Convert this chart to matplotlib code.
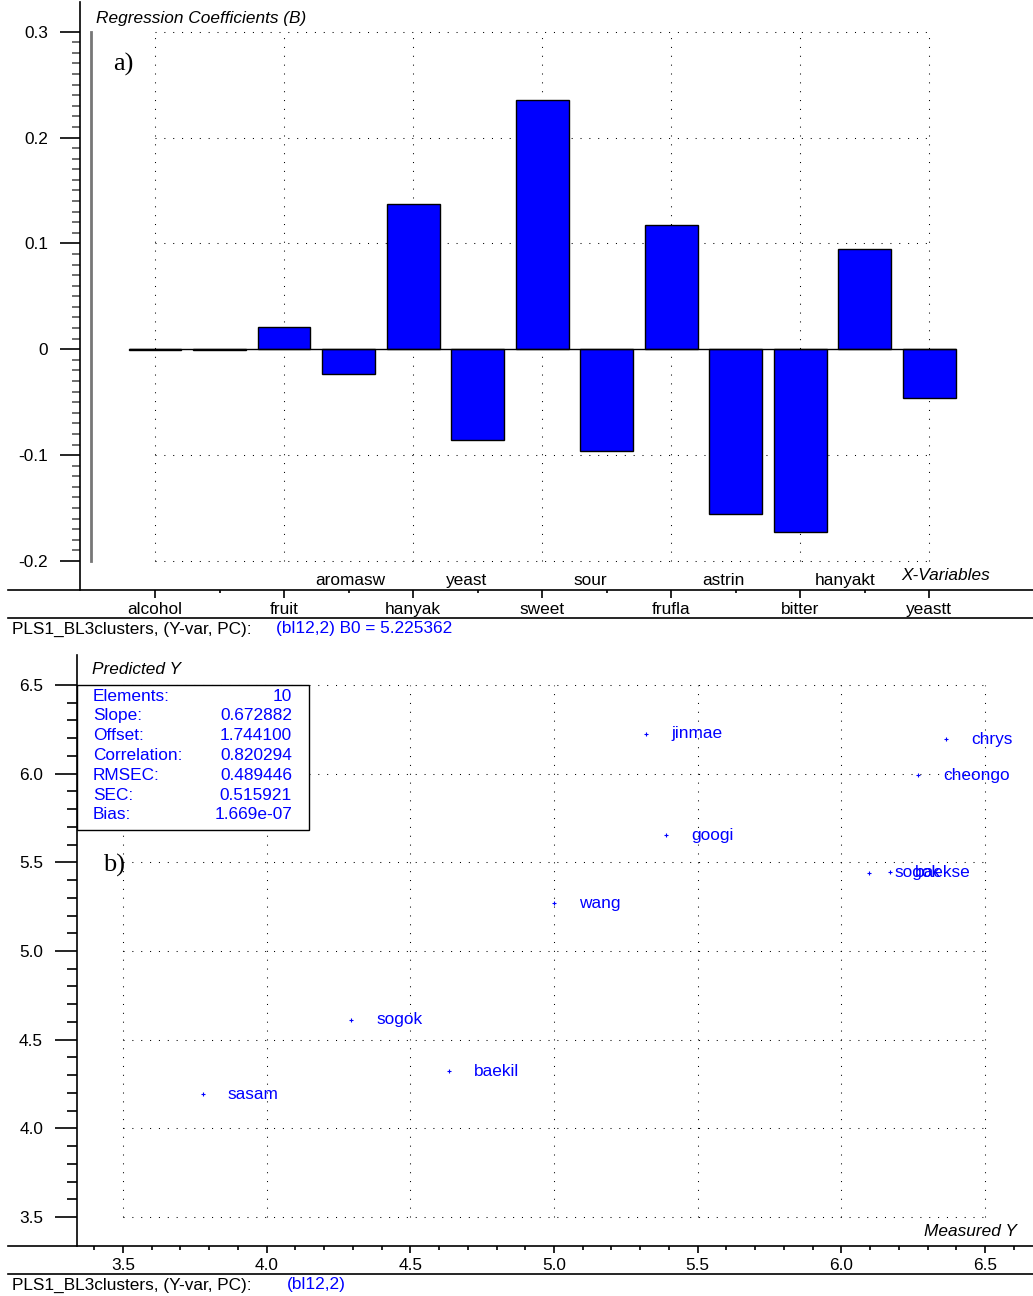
import numpy as np
import matplotlib
matplotlib.use('Agg')
import matplotlib.pyplot as plt
import matplotlib.transforms as mtransforms
from matplotlib.lines import Line2D
from matplotlib.patches import Rectangle
from matplotlib.ticker import FixedLocator, MultipleLocator, FuncFormatter

plt.rcParams['font.family'] = ['Liberation Sans', 'DejaVu Sans']
plt.rcParams['font.size'] = 12.4

# regression coefficients (B) per x-variable
variables = ['alcohol', '', 'fruit', 'aromasw', 'hanyak', 'yeast', 'sweet',
             'sour', 'frufla', 'astrin', 'bitter', 'hanyakt', 'yeastt']
coefs = [-0.001, -0.001, 0.021, -0.023, 0.137, -0.086, 0.235,
         -0.096, 0.117, -0.156, -0.173, 0.095, -0.046]
b0 = 5.225362

# measured vs predicted Y
samples = ['sasam', 'sogok', 'baekil', 'wang', 'jinmae', 'googi',
           'chrys', 'cheongo', 'sogok', 'baekse']
measured = [3.778, 4.294, 4.635, 5.000, 5.320, 5.390, 6.365, 6.267, 6.097, 6.170]
predicted = [4.193, 4.611, 4.323, 5.270, 6.224, 5.654, 6.195, 5.992, 5.440, 5.445]

stat_names = ['Elements:', 'Slope:', 'Offset:', 'Correlation:', 'RMSEC:', 'SEC:', 'Bias:']
stat_values = ['10', '0.672882', '1.744100', '0.820294', '0.489446', '0.515921', '1.669e-07']

BLUE = '#0000ff'
W, H = 1033, 1296

# horizontal nudge (pixels) of the upper-row variable names so they don't collide
upper_shift = [2, -11, -16, -12, -20]


def fx(x):
    return x / float(W)


def fy(y):
    return 1 - y / float(H)


def pt(px):
    return px * 0.72


def hline(y, x0=8, x1=1033, lw=1.2):
    fig.add_artist(Line2D([fx(x0), fx(x1)], [fy(y), fy(y)], transform=fig.transFigure,
                          color='black', lw=lw))


dots = (0, (1, 7.5))

fig = plt.figure(figsize=(W / 100.0, H / 100.0), dpi=100)
fig.patch.set_facecolor('white')

# ---------------- a) regression coefficients ----------------
ax1 = fig.add_axes([fx(80), fy(590), fx(1033 - 80), (590 - 2) / float(H)])
ax1.set_xlim(-1.163, 13.61)
ax1.set_ylim(-0.2274, 0.328)

x = np.arange(len(variables))
ax1.bar(x, coefs, width=0.82, color=BLUE, edgecolor='black', linewidth=1, zorder=3)
ax1.hlines(0, x[0] - 0.41, x[-1] + 0.41, color='black', lw=1, zorder=4)

for v in [-0.2, -0.1, 0.1, 0.2, 0.3]:
    ax1.hlines(v, x[0], x[-1], color='black', lw=0.75, linestyles=[dots], zorder=1)
for v in x[::2]:
    ax1.vlines(v, -0.2, 0.3, color='black', lw=0.75, linestyles=[dots], zorder=1)

trans = mtransforms.blended_transform_factory(ax1.transAxes, ax1.transData)
ax1.plot([0.0115, 0.0115], [-0.2, 0.3], transform=trans, color='#777777', lw=2)

for s in ['top', 'right', 'bottom']:
    ax1.spines[s].set_visible(False)
ax1.spines['left'].set_linewidth(1.2)

ax1.set_yticks(np.round(np.arange(-0.2, 0.31, 0.1), 2))
ax1.yaxis.set_minor_locator(FixedLocator(np.round(np.arange(-0.2, 0.301, 0.01), 3)))
ax1.yaxis.set_major_formatter(FuncFormatter(lambda v, p: '0' if abs(v) < 1e-9 else '%.1f' % v))
ax1.tick_params(axis='y', which='major', direction='out', length=pt(20), width=1.2, pad=pt(12))
ax1.tick_params(axis='y', which='minor', direction='out', length=pt(8), width=1.2, color='#555555')

ax1.set_xticks(x[::2])
ax1.set_xticklabels(variables[::2])
ax1.set_xticks(x[1::2], minor=True)
ax1.tick_params(axis='x', which='major', direction='out', length=pt(8), width=1.2, pad=pt(4))
ax1.tick_params(axis='x', which='minor', direction='out', length=pt(3), width=1.2)

xtrans = mtransforms.blended_transform_factory(ax1.transData, ax1.transAxes)
for i, dx in zip(x[3::2], upper_shift):
    ax1.annotate(variables[i], (i, 0.016), xycoords=xtrans, xytext=(dx, 0),
                 textcoords='offset pixels', ha='center', va='center')

hline(590)
hline(618)
fig.text(fx(96), fy(18), 'Regression Coefficients (B)', style='italic', va='center')
fig.text(fx(990), fy(576), 'X-Variables', style='italic', ha='right', va='center')
fig.text(fx(113), fy(64), 'a)', family='Liberation Serif', size=19, va='center')
fig.text(fx(12), fy(629), 'PLS1_BL3clusters, (Y-var, PC):', va='center')
fig.text(fx(276), fy(629), '(bl12,2) B0 = %.6f' % b0, color=BLUE, va='center')

# ---------------- b) predicted vs measured ----------------
ax2 = fig.add_axes([fx(77), fy(1246), fx(1033 - 77), (1246 - 655) / float(H)])
ax2.set_xlim(3.3399, 6.667)
ax2.set_ylim(3.3365, 6.669)

for v in np.arange(3.5, 6.51, 0.5):
    ax2.hlines(v, 3.5, 6.5, color='black', lw=0.75, linestyles=[dots], zorder=1)
    ax2.vlines(v, 3.5, 6.5, color='black', lw=0.75, linestyles=[dots], zorder=1)

ax2.plot(measured, predicted, '+', color=BLUE, ms=3, mew=0.8, zorder=3)
for name, mx, my in zip(samples, measured, predicted):
    ax2.annotate(name, (mx, my), xytext=(25, 0), textcoords='offset pixels',
                 color=BLUE, ha='left', va='center', zorder=4)

for s in ['top', 'right', 'bottom']:
    ax2.spines[s].set_visible(False)
ax2.spines['left'].set_linewidth(1.2)

ax2.set_yticks(np.arange(3.5, 6.51, 0.5))
ax2.yaxis.set_minor_locator(FixedLocator(np.round(np.arange(3.5, 6.501, 0.1), 2)))
ax2.yaxis.set_major_formatter(FuncFormatter(lambda v, p: '%.1f' % v))
ax2.tick_params(axis='y', which='major', direction='out', length=pt(22), width=1.2, pad=pt(12))
ax2.tick_params(axis='y', which='minor', direction='out', length=pt(10), width=1.2)

ax2.xaxis.set_major_locator(MultipleLocator(0.5))
ax2.xaxis.set_minor_locator(MultipleLocator(0.1))
ax2.xaxis.set_major_formatter(FuncFormatter(lambda v, p: '%.1f' % v))
ax2.tick_params(axis='x', which='major', direction='out', length=pt(7), width=1.2, pad=pt(5))
ax2.tick_params(axis='x', which='minor', direction='out', length=pt(4), width=1.2)

hline(1246)
hline(1274)

# statistics box
fig.add_artist(Rectangle((fx(77), fy(830)), fx(309 - 77), (830 - 685) / float(H),
                         transform=fig.transFigure, facecolor='white', edgecolor='black',
                         lw=1, zorder=2))
for k, (name, val) in enumerate(zip(stat_names, stat_values)):
    yy = 696 + k * 19.8
    fig.text(fx(93), fy(yy), name, color=BLUE, va='center', zorder=5)
    fig.text(fx(292), fy(yy), val, color=BLUE, ha='right', va='center', zorder=5)

fig.text(fx(92), fy(669), 'Predicted Y', style='italic', va='center')
fig.text(fx(1017), fy(1232), 'Measured Y', style='italic', ha='right', va='center')
fig.text(fx(103), fy(865), 'b)', family='Liberation Serif', size=19, va='center')
fig.text(fx(12), fy(1285), 'PLS1_BL3clusters, (Y-var, PC):', va='center')
fig.text(fx(287), fy(1285), '(bl12,2)', color=BLUE, va='center')

fig.savefig('out.png', dpi=100)
plt.close(fig)
